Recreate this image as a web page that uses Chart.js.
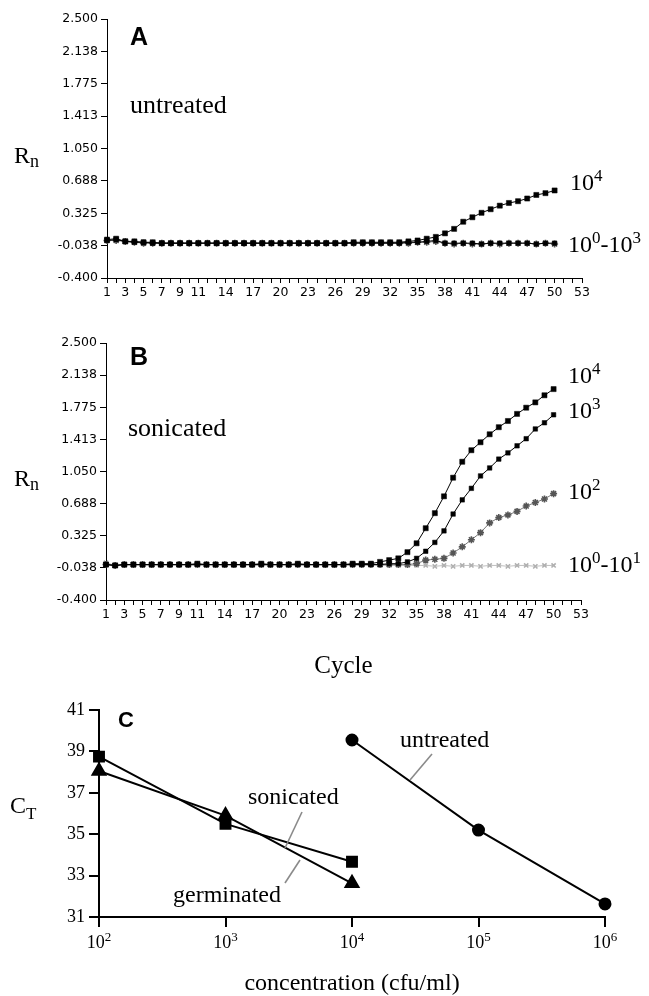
<!DOCTYPE html>
<html><head><meta charset="utf-8">
<script src="https://cdn.jsdelivr.net/npm/chart.js@4.4.1/dist/chart.umd.min.js"></script>
<style>
html,body{margin:0;padding:0;background:#fff;}
#wrap{position:relative;width:649px;height:996px;background:#fff;overflow:hidden;}
.box{position:absolute;left:0;width:649px;}
</style></head><body>
<div id="wrap">
  <div class="box" style="top:0px;height:305px"><canvas id="cA"></canvas></div>
  <div class="box" style="top:325px;height:360px"><canvas id="cB"></canvas></div>
  <div class="box" style="top:680px;height:316px"><canvas id="cC"></canvas></div>
</div>
<script>
// ---------------- DATA ----------------
const cycles = [1,2,3,4,5,6,7,8,9,10,11,12,13,14,15,16,17,18,19,20,21,22,23,24,25,
                26,27,28,29,30,31,32,33,34,35,36,37,38,39,40,41,42,43,44,45,46,47,48,49,50];
const xTickLabels = [1,3,5,7,9,11,14,17,20,23,26,29,32,35,38,41,44,47,50,53];
const rnTicks = [-0.400,-0.038,0.325,0.688,1.050,1.413,1.775,2.138,2.500];

// Panel A (untreated)
const untreated_1e4 = [0.03,0.04,0.01,0.01,0.00, 0.00,-0.01,-0.01,-0.01,-0.01,
                       -0.01,-0.01,-0.01,-0.01,-0.01, -0.01,-0.01,-0.01,-0.01,-0.01,
                       -0.01,-0.01,-0.01,-0.01,-0.01, -0.01,-0.01,0.00,0.00,0.00,
                       0.00,0.00,0.00,0.01,0.02, 0.04,0.06,0.10,0.15,0.23,
                       0.28,0.33,0.37,0.41,0.44, 0.46,0.49,0.53,0.55,0.58];
const untreated_1e3 = [0.02,0.03,0.01,0.00,0.00, -0.01,-0.01,-0.01,-0.01,-0.01,
                       -0.01,-0.01,-0.01,-0.01,-0.01, -0.01,-0.01,-0.01,-0.01,-0.01,
                       -0.01,-0.01,-0.01,-0.01,-0.01, -0.01,-0.01,-0.01,-0.01,-0.01,
                       -0.01,-0.01,-0.01,0.00,0.00, 0.01,0.02,-0.01,-0.01,-0.01,
                       -0.01,-0.02,-0.01,-0.01,-0.01, -0.01,-0.01,-0.02,-0.01,-0.01];
const untreated_1e0_1e2 = [0.02,0.02,0.01,0.00,-0.01, -0.01,-0.01,-0.01,-0.01,-0.01,
                       -0.01,-0.01,-0.01,-0.01,-0.01, -0.01,-0.01,-0.01,-0.01,-0.01,
                       -0.01,-0.01,-0.01,-0.01,-0.01, -0.01,-0.01,-0.01,-0.01,-0.01,
                       -0.01,-0.01,-0.01,-0.01,0.00, 0.00,0.01,-0.01,-0.02,-0.01,
                       -0.02,-0.02,-0.01,-0.02,-0.01, -0.01,-0.01,-0.02,-0.01,-0.02];

// Panel B (sonicated)
const sonic_1e4 = [0.00,-0.01,0.00,0.00,0.00, 0.00,0.00,0.00,0.00,0.00,
                   0.01,0.00,0.00,0.00,0.00, 0.00,0.00,0.01,0.00,0.00,
                   0.00,0.01,0.00,0.00,0.00, 0.00,0.00,0.01,0.01,0.01,
                   0.03,0.05,0.07,0.14,0.24, 0.41,0.58,0.77,0.98,1.16,
                   1.29,1.38,1.47,1.55,1.62, 1.70,1.77,1.83,1.91,1.98];
const sonic_1e3 = [0.00,-0.01,0.00,0.00,0.00, 0.00,0.00,0.00,0.00,0.00,
                   0.00,0.00,0.00,0.00,0.00, 0.00,0.00,0.00,0.00,0.00,
                   0.00,0.00,0.00,0.00,0.00, 0.00,0.00,0.00,0.00,0.00,
                   0.00,0.01,0.01,0.03,0.07, 0.15,0.25,0.38,0.57,0.73,
                   0.86,1.00,1.09,1.19,1.26, 1.34,1.42,1.53,1.60,1.69];
const sonic_1e2 = [0.00,-0.01,0.00,0.00,0.00, 0.00,0.00,0.00,0.00,0.00,
                   0.00,0.00,0.00,0.00,0.00, 0.00,0.00,0.00,0.00,0.00,
                   0.00,0.00,0.00,0.00,0.00, 0.00,0.00,0.00,0.00,0.00,
                   0.00,0.00,0.00,0.00,0.01, 0.05,0.06,0.07,0.13,0.20,
                   0.28,0.36,0.47,0.53,0.56, 0.60,0.66,0.70,0.74,0.80];
const sonic_1e0_1e1 = [0.02,-0.01,-0.01,-0.01,-0.01, -0.01,-0.01,-0.01,-0.01,-0.01,
                   -0.01,-0.01,-0.01,-0.01,-0.01, -0.01,-0.01,-0.01,-0.01,-0.01,
                   -0.01,-0.01,-0.01,-0.01,-0.01, -0.01,-0.01,-0.01,-0.01,-0.01,
                   -0.01,-0.01,-0.01,-0.01,-0.01, -0.01,-0.02,-0.01,-0.02,-0.01,
                   -0.01,-0.02,-0.01,-0.01,-0.02, -0.01,-0.01,-0.02,-0.01,-0.01];

// Panel C
const concTicks = [1e2,1e3,1e4,1e5,1e6];
const concLow = [1e2,1e3,1e4];
const ct_sonicated = [38.75,35.50,33.67];
const ct_germinated = [38.05,35.90,32.63];
const concHigh = [1e4,1e5,1e6];
const ct_untreated = [39.55,35.20,31.63];

// ---------------- HELPERS ----------------
const SERIF = "'Liberation Serif','Times New Roman',serif";
const SANS = "'Liberation Sans',Arial,sans-serif";
const TICKF = "'DejaVu Sans',Verdana,sans-serif";
function pts(xs, ys){ return xs.map((x,i)=>({x:x, y:ys[i]})); }
function parts(ctx, x, y, list, align){
  ctx.textAlign='left'; ctx.textBaseline='alphabetic'; ctx.fillStyle='#000';
  let total=0;
  list.forEach(p=>{ ctx.font=p[1]+'px '+SERIF; total+=ctx.measureText(p[0]).width; });
  let cx = align==='center' ? x-total/2 : x;
  list.forEach(p=>{ ctx.font=p[1]+'px '+SERIF; ctx.fillText(p[0], cx, y-p[2]); cx+=ctx.measureText(p[0]).width; });
}
function label(ctx, s, x, y, font, align){
  ctx.font=font; ctx.fillStyle='#000'; ctx.textAlign=align||'left'; ctx.textBaseline='alphabetic';
  ctx.fillText(s, x, y);
}
function leader(ctx, x1,y1,x2,y2){
  ctx.strokeStyle='#8a8a8a'; ctx.lineWidth=1.6; ctx.beginPath(); ctx.moveTo(x1,y1); ctx.lineTo(x2,y2); ctx.stroke();
}
function cycleScales(leftW, bottomH){
  return {
    x:{ type:'linear', min:1, max:53,
        afterFit:s=>{ s.height=bottomH; },
        ticks:{ stepSize:1, autoSkip:false, maxRotation:0, minRotation:0, padding:2, color:'#000',
                font:{family:TICKF,size:12.5},
                callback:v=> xTickLabels.includes(v) ? String(v) : '' },
        grid:{ drawOnChartArea:false, drawTicks:true, tickLength:5, color:'#000', lineWidth:1 },
        border:{ display:true, color:'#000', width:1 } },
    y:{ type:'linear', min:-0.4, max:2.5,
        afterFit:s=>{ s.width=leftW; },
        afterBuildTicks:s=>{ s.ticks = rnTicks.map(v=>({value:v})); },
        ticks:{ padding:3, color:'#000', font:{family:TICKF,size:12.5}, callback:v=> Number(v).toFixed(3) },
        grid:{ drawOnChartArea:false, drawTicks:true, tickLength:6, color:'#000', lineWidth:1 },
        border:{ display:true, color:'#000', width:1 } }
  };
}
function blackSq(data, r){
  return { data:data, showLine:true, borderColor:'#000', borderWidth:1, pointStyle:'rect',
           pointRadius:r, pointBackgroundColor:'#000', pointBorderColor:'#000', pointBorderWidth:0.5, clip:false };
}
function starSet(data, color, style, r){
  return { data:data, showLine:true, borderColor:color, borderWidth:0.8, pointStyle:style,
           pointRadius:r, pointBackgroundColor:color, pointBorderColor:color, pointBorderWidth:1.6, clip:false };
}
const common = { responsive:true, maintainAspectRatio:false, animation:false,
                 plugins:{ legend:{display:false}, tooltip:{enabled:false} } };

// ---------------- PANEL A ----------------
new Chart(document.getElementById('cA'), {
  type:'scatter',
  data:{ datasets:[
    blackSq(pts(cycles, untreated_1e4), 3.6),
    blackSq(pts(cycles, untreated_1e3), 3.2),
    starSet(pts(cycles, untreated_1e0_1e2), '#555', 'star', 3.5)
  ]},
  options:Object.assign({}, common, {
    layout:{ padding:{ left:0, top:19, right:67, bottom:0 } },
    scales: cycleScales(107, 305-278)
  }),
  plugins:[{ id:'annA', afterDraw(chart){
    const ctx=chart.ctx; ctx.save();
    label(ctx, 'A', 130, 45, 'bold 25px '+SANS);
    label(ctx, 'untreated', 130, 113, '26px '+SERIF);
    parts(ctx, 14, 163, [['R',24,0],['n',18,-4]]);
    parts(ctx, 570, 190, [['10',24,0],['4',17,9]]);
    parts(ctx, 568, 252, [['10',24,0],['0',17,9],['-10',24,0],['3',17,9]]);
    ctx.restore();
  }}]
});

// ---------------- PANEL B ----------------
new Chart(document.getElementById('cB'), {
  type:'scatter',
  data:{ datasets:[
    blackSq(pts(cycles, sonic_1e4), 3.6),
    blackSq(pts(cycles, sonic_1e3), 3.2),
    starSet(pts(cycles, sonic_1e2), '#555', 'star', 3.5),
    starSet(pts(cycles, sonic_1e0_1e1), '#b0b0b0', 'crossRot', 3)
  ]},
  options:Object.assign({}, common, {
    layout:{ padding:{ left:0, top:18, right:68, bottom:0 } },
    scales: cycleScales(106, 360-275)
  }),
  plugins:[{ id:'annB', afterDraw(chart){
    const ctx=chart.ctx; ctx.save();
    label(ctx, 'B', 130, 40, 'bold 25px '+SANS);
    label(ctx, 'sonicated', 128, 111, '26px '+SERIF);
    parts(ctx, 14, 161, [['R',24,0],['n',18,-4]]);
    parts(ctx, 568, 58, [['10',24,0],['4',17,9]]);
    parts(ctx, 568, 93, [['10',24,0],['3',17,9]]);
    parts(ctx, 568, 174, [['10',24,0],['2',17,9]]);
    parts(ctx, 568, 247, [['10',24,0],['0',17,9],['-10',24,0],['1',17,9]]);
    const xs = chart.scales.x;
    label(ctx, 'Cycle', (xs.left+xs.right)/2, 348, '25px '+SERIF, 'center');
    ctx.restore();
  }}]
});

// ---------------- PANEL C ----------------
new Chart(document.getElementById('cC'), {
  type:'scatter',
  data:{ datasets:[
    { data:pts(concLow, ct_sonicated), showLine:true, borderColor:'#000', borderWidth:2,
      pointStyle:'rect', pointRadius:7, pointBackgroundColor:'#000', pointBorderColor:'#000', clip:false },
    { data:pts(concLow, ct_germinated), showLine:true, borderColor:'#000', borderWidth:2,
      pointStyle:'triangle', pointRadius:7.5, pointBackgroundColor:'#000', pointBorderColor:'#000', clip:false },
    { data:pts(concHigh, ct_untreated), showLine:true, borderColor:'#000', borderWidth:2,
      pointStyle:'circle', pointRadius:5.5, pointBackgroundColor:'#000', pointBorderColor:'#000', clip:false }
  ]},
  options:Object.assign({}, common, {
    layout:{ padding:{ left:0, top:30, right:44, bottom:0 } },
    scales:{
      x:{ type:'logarithmic', min:1e2, max:1e6,
          afterFit:s=>{ s.height=316-237; },
          afterBuildTicks:s=>{ s.ticks = concTicks.map(v=>({value:v})); },
          ticks:{ display:false },
          grid:{ drawOnChartArea:false, drawTicks:true, tickLength:10, color:'#000', lineWidth:2 },
          border:{ display:true, color:'#000', width:2 } },
      y:{ type:'linear', min:31, max:41,
          afterFit:s=>{ s.width=99; },
          ticks:{ stepSize:2, padding:4, color:'#000', font:{family:SERIF,size:18} },
          grid:{ drawOnChartArea:false, drawTicks:true, tickLength:10, color:'#000', lineWidth:2 },
          border:{ display:true, color:'#000', width:2 } }
    }
  }),
  plugins:[{ id:'annC', afterDraw(chart){
    const ctx=chart.ctx; ctx.save();
    const xs = chart.scales.x;
    concTicks.forEach(v=>{
      const e = Math.round(Math.log10(v));
      parts(ctx, xs.getPixelForValue(v), 268, [['10',18,0],[String(e),13,7]], 'center');
    });
    label(ctx, 'C', 118, 47, 'bold 22px '+SANS);
    parts(ctx, 10, 133, [['C',24,0],['T',17,-6]]);
    label(ctx, 'untreated', 400, 67, '24px '+SERIF);
    label(ctx, 'sonicated', 248, 124, '24px '+SERIF);
    label(ctx, 'germinated', 173, 222, '24px '+SERIF);
    leader(ctx, 432, 74, 410, 100);
    leader(ctx, 302, 132, 285, 168);
    leader(ctx, 285, 203, 300, 180);
    label(ctx, 'concentration (cfu/ml)', (xs.left+xs.right)/2, 310, '24px '+SERIF, 'center');
    ctx.restore();
  }}]
});
</script>
</body></html>
